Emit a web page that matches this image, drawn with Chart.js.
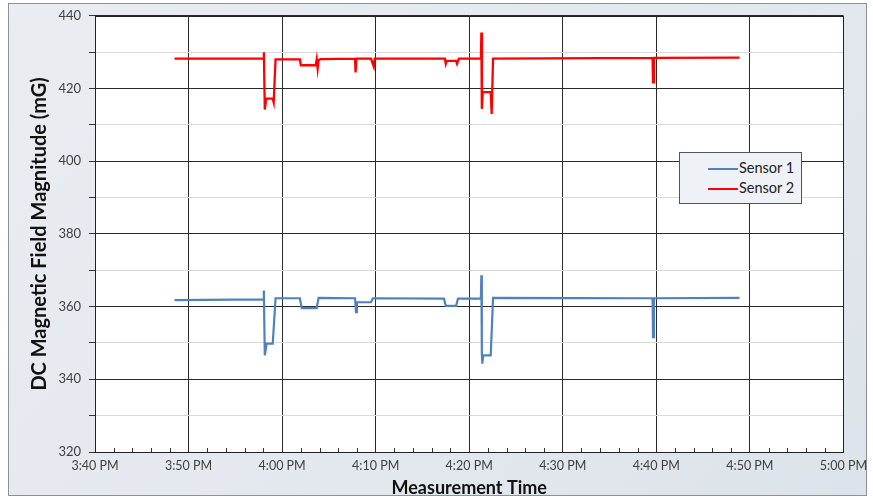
<!DOCTYPE html>
<html>
<head>
<meta charset="utf-8">
<script src="https://cdn.jsdelivr.net/npm/chart.js@4/dist/chart.umd.min.js"></script>
<style>
  html, body { margin: 0; padding: 0; background: #ffffff; }
  #wrap { position: relative; width: 873px; height: 499px; overflow: hidden; }
  #frame { position: absolute; left: 8px; top: 3px; width: 857px; height: 491px;
           border: 1px solid #8d9298; background: linear-gradient(135deg, #e9edf2 0%, #e3e8ee 60%, #dde3ea 100%); }
  #chart { position: absolute; left: 0; top: 0; }
  #legend { position: absolute; left: 679px; top: 152px; width: 121px; height: 50px;
            border: 1px solid #555; background: #eef1f5;
            font-family: Lato, "Open Sans", sans-serif; font-size: 14.5px; color: #222; }
  .item { position: absolute; left: 0; height: 18px; line-height: 18px; }
  .swatch { position: absolute; left: 28px; top: 9px; width: 30px; height: 2px; }
  .lbl { position: absolute; left: 59px; top: 0; white-space: nowrap; }
</style>
</head>
<body>
<div id="wrap">
  <div id="frame"></div>
  <canvas id="chart" width="873" height="499"></canvas>
  <div id="legend"></div>
</div>
<script>
// Minutes after 3:40 PM
const seriesNames = ["Sensor 1", "Sensor 2"];
const seriesColors = ["#4f81bd", "#ff0000"];

const sensor1Time  = [8.5, 18.0, 18.05, 18.15, 18.35, 19.0, 19.3, 21.9, 22.1, 23.7, 23.9, 27.8, 27.9, 28.0, 29.5, 29.7, 37.3, 37.5, 38.6, 38.8, 41.25, 41.3, 41.35, 41.4, 41.5, 42.3, 42.55, 59.6, 59.65, 59.75, 68.9];
const sensor1Value = [361.8, 362.0, 364.4, 346.6, 349.8, 349.8, 362.3, 362.3, 359.6, 359.6, 362.4, 362.3, 358.5, 361.2, 361.2, 362.3, 362.2, 360.2, 360.2, 362.2, 362.2, 368.6, 347.5, 344.3, 346.6, 346.6, 362.4, 362.3, 351.6, 362.3, 362.4];

const sensor2Time  = [8.5, 18.0, 18.05, 18.15, 18.3, 19.0, 19.1, 19.3, 21.9, 22.0, 23.6, 23.7, 23.8, 23.9, 24.1, 27.8, 27.85, 27.95, 29.5, 29.8, 29.9, 37.4, 37.5, 37.6, 38.6, 38.7, 38.9, 41.25, 41.3, 41.35, 41.45, 42.3, 42.4, 42.55, 59.6, 59.65, 59.75, 68.9];
const sensor2Value = [428.2, 428.2, 430.0, 414.2, 417.2, 417.2, 416.2, 428.0, 428.0, 426.4, 426.4, 428.0, 425.5, 427.8, 428.1, 428.2, 424.4, 428.2, 428.2, 426.0, 428.2, 428.2, 426.8, 427.6, 427.6, 426.8, 428.2, 428.2, 435.4, 414.4, 419.0, 419.0, 413.0, 428.2, 428.4, 421.7, 428.4, 428.5];

const xMin = 0, xMax = 80, xMajor = 10, xMinor = 2;
const yMin = 320, yMax = 440, yMajor = 20, yMinor = 10;

function timeLabel(v) {
  const total = 15 * 60 + 40 + v;
  let h = Math.floor(total / 60) % 12; if (h === 0) h = 12;
  const m = Math.round(total % 60);
  return h + ":" + String(m).padStart(2, "0") + " PM";
}
function toPoints(t, v) { return t.map((x, i) => ({ x: x, y: v[i] })); }

const plotBg = {
  id: "plotBg",
  beforeDraw(chart) {
    const a = chart.chartArea, c = chart.ctx;
    c.save(); c.fillStyle = "#ffffff";
    c.fillRect(a.left, a.top, a.right - a.left, a.bottom - a.top);
    c.restore();
  },
  afterDatasetsDraw(chart) {
    const a = chart.chartArea, c = chart.ctx, xs = chart.scales.x;
    c.save(); c.strokeStyle = "#333"; c.lineWidth = 1;
    for (let v = xMin; v <= xMax; v += xMinor) {
      if (v % xMajor === 0) continue;
      const px = Math.round(xs.getPixelForValue(v)) + 0.5;
      c.beginPath(); c.moveTo(px, a.bottom); c.lineTo(px, a.bottom - 4); c.stroke();
    }
    c.strokeStyle = "#222";
    c.strokeRect(Math.round(a.left) + 0.5, Math.round(a.top) + 0.5, Math.round(a.right - a.left), Math.round(a.bottom - a.top));
    c.restore();
  }
};

const font = "Lato, 'Open Sans', sans-serif";
new Chart(document.getElementById("chart"), {
  type: "line",
  data: {
    datasets: [
      { label: seriesNames[0], data: toPoints(sensor1Time, sensor1Value), borderColor: seriesColors[0], borderWidth: 2.2, pointRadius: 0, tension: 0 },
      { label: seriesNames[1], data: toPoints(sensor2Time, sensor2Value), borderColor: seriesColors[1], borderWidth: 2.3, pointRadius: 0, tension: 0 }
    ]
  },
  options: {
    responsive: false, animation: false,
    layout: { padding: { left: 0, right: 28, top: 15, bottom: 0 } },
    plugins: { legend: { display: false }, tooltip: { enabled: false } },
    scales: {
      x: {
        type: "linear", min: xMin, max: xMax,
        afterFit(s) { s.height = 47; },
        ticks: { stepSize: xMinor, autoSkip: false, maxRotation: 0, color: "#404040", font: { family: font, size: 12.5 }, padding: 6,
                 callback: v => (v % xMajor === 0 ? timeLabel(v) : "") },
        grid: { drawTicks: false, color: ctx => (ctx.tick && ctx.tick.value % xMajor === 0 ? "#2a2a2a" : "rgba(0,0,0,0)"), lineWidth: 1 },
        border: { color: "#222" },
        title: { display: true, text: "Measurement Time", color: "#111", font: { family: font, size: 18, weight: "bold" }, padding: { top: 0, bottom: 0 } }
      },
      y: {
        min: yMin, max: yMax,
        afterFit(s) { s.width = 95; },
        ticks: { stepSize: yMinor, color: "#404040", font: { family: font, size: 13 }, padding: 8,
                 callback: v => (v % yMajor === 0 ? String(v) : "") },
        grid: { color: ctx => (ctx.tick && ctx.tick.value % yMajor === 0 ? "#2a2a2a" : "#d9d9d9"), tickLength: 6, tickColor: "#333", lineWidth: 1 },
        border: { color: "#222" },
        title: { display: true, text: "DC Magnetic Field Magnitude (mG)", color: "#111", font: { family: font, size: 20, weight: "bold" }, padding: { top: 28, bottom: 0 } }
      }
    }
  },
  plugins: [plotBg]
});

const lg = document.getElementById("legend");
seriesNames.forEach((n, i) => {
  const d = document.createElement("div");
  d.className = "item"; d.style.top = (6 + i * 20) + "px";
  d.innerHTML = '<div class="swatch" style="background:' + seriesColors[i] + '"></div><div class="lbl"></div>';
  d.querySelector(".lbl").textContent = n;
  lg.appendChild(d);
});
</script>
</body>
</html>
